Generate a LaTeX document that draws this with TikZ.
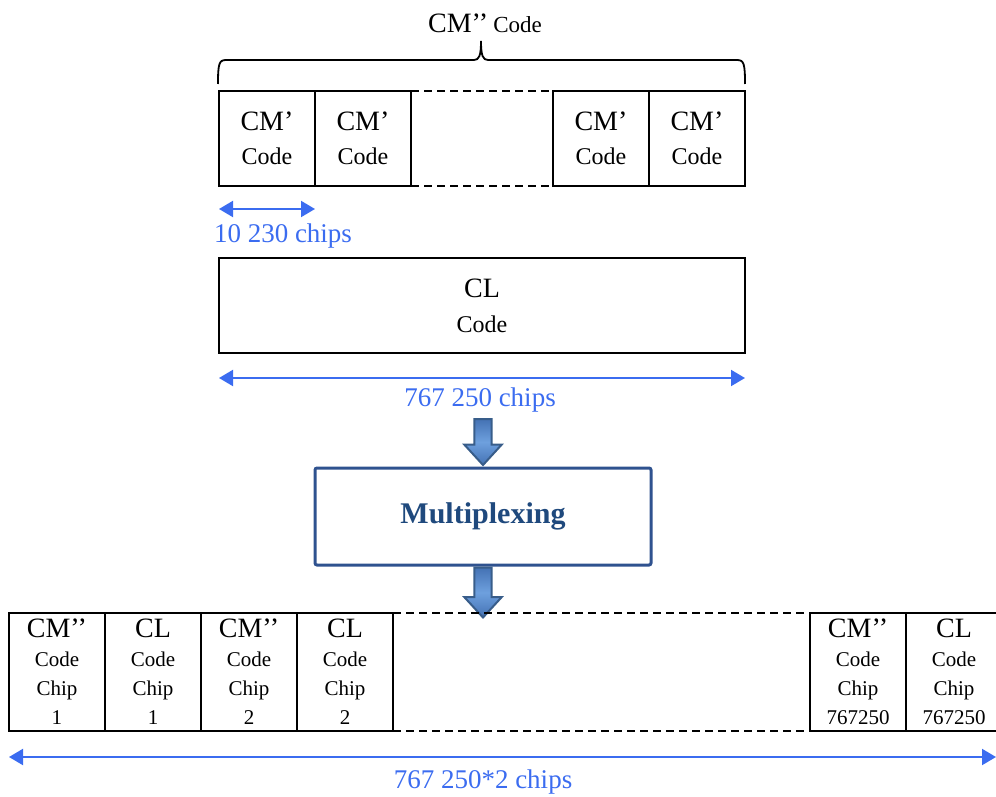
\documentclass[tikz,border=0pt]{standalone}
\usepackage{fontspec}
\setmainfont{Liberation Serif}
\usepackage{xcolor}
\usepackage{tikz}
\usetikzlibrary{arrows.meta,positioning,calc,shapes.arrows}

\definecolor{dimblue}{RGB}{59,108,240}
\definecolor{muxedge}{RGB}{47,82,143}
\definecolor{muxtext}{RGB}{31,73,125}
\definecolor{fatfill}{RGB}{68,114,180}
\definecolor{fatlight}{RGB}{110,160,222}
\definecolor{fatedge}{RGB}{56,93,138}

\tikzset{
  cell/.style={draw, line width=0.9pt, inner sep=0pt, outer sep=0pt,
    minimum width=48pt, minimum height=47.5pt, align=center,
    font=\fontsize{12}{17}\selectfont},
  chipcell/.style={cell, minimum height=59pt,
    font=\fontsize{10.5}{14.5}\selectfont},
  gapline/.style={line width=0.9pt, dash pattern=on 4pt off 2.5pt},
  dimarrow/.style={dimblue, line width=1pt,
    {Triangle[length=7pt,width=8pt]}-{Triangle[length=7pt,width=8pt]}},
  dimlabel/.style={text=dimblue, font=\fontsize{13.5}{13.5}\selectfont},
  fatarrow/.style={single arrow, draw=fatedge, line width=1pt,
    top color=fatfill, bottom color=fatfill, middle color=fatlight,
    rotate=-90, inner sep=3.8pt, single arrow head extend=5pt,
    single arrow tip angle=85},
  muxbox/.style={draw=muxedge, line width=1.5pt, rounded corners=1pt,
    minimum width=168pt, minimum height=48.5pt, text=muxtext,
    font=\fontsize{15}{15}\selectfont\bfseries}
}
\newcommand{\bigtxt}[1]{{\fontsize{14}{17}\selectfont #1}}

\begin{document}
\begin{tikzpicture}[x=0.5pt, y=-0.5pt]
  \clip (0,0) rectangle (996,797);

  % CM' code periods
  \node[cell] (c1) at (267,138.5) {\bigtxt{CM’}\\Code};
  \node[cell, right=0pt of c1] (c2) {\bigtxt{CM’}\\Code};
  \node[cell] (c3) at (601,138.5) {\bigtxt{CM’}\\Code};
  \node[cell, right=0pt of c3] (c4) {\bigtxt{CM’}\\Code};
  \draw[gapline] (c2.north east) -- (c3.north west);
  \draw[gapline] (c2.south east) -- (c3.south west);

  % brace over the whole CM'' code
  \draw[line width=0.9pt]
    (218,84) .. controls (218,64) and (219,60) .. (226,60) -- (474,60)
    .. controls (479,60) and (481,56) .. (481,41)
    .. controls (481,56) and (483,60) .. (488,60) -- (737,60)
    .. controls (744,60) and (745,64) .. (745,84);
  \node (cmlabel) at (485,23)
    {\bigtxt{CM’’} {\fontsize{11.5}{11.5}\selectfont Code}};

  % 10 230 chips
  \coordinate (w1) at ($(c1.south west)+(0,23)$);
  \coordinate (w2) at ($(c1.south east)+(0,23)$);
  \draw[dimarrow] (w1) -- (w2);
  \node[dimlabel] (wlabel) at (283,236) {10 230 chips};

  % CL code
  \node[cell, minimum width=263pt, font=\fontsize{12}{17.5}\selectfont]
    (cl) at (482,305.5) {\bigtxt{CL}\\Code};
  \coordinate (l1) at ($(cl.south west)+(0,25)$);
  \coordinate (l2) at ($(cl.south east)+(0,25)$);
  \draw[dimarrow] (l1) -- (l2);
  \node[dimlabel] (llabel) at (480,400) {767 250 chips};

  % Multiplexing
  \node[muxbox] (mux) at (483,516.5) {Multiplexing};
  \node[fatarrow, minimum height=23pt, anchor=tip] (fat1) at (mux.north) {};
  \node[fatarrow, minimum height=25pt, anchor=tail] (fat2) at (mux.south) {};

  % multiplexed chips
  \node[chipcell] (b1) at (57,672) {\bigtxt{CM’’}\\Code\\Chip\\1};
  \node[chipcell, right=0pt of b1] (b2) {\bigtxt{CL}\\Code\\Chip\\1};
  \node[chipcell, right=0pt of b2] (b3) {\bigtxt{CM’’}\\Code\\Chip\\2};
  \node[chipcell, right=0pt of b3] (b4) {\bigtxt{CL}\\Code\\Chip\\2};
  \node[chipcell] (b5) at (858,672) {\bigtxt{CM’’}\\Code\\Chip\\767250};
  \node[chipcell, right=0pt of b5] (b6) {\bigtxt{CL}\\Code\\Chip\\767250};
  \draw[gapline] (b4.north east) -- (b5.north west);
  \draw[gapline] (b4.south east) -- (b5.south west);

  \coordinate (m1) at ($(b1.south west)+(0,26)$);
  \coordinate (m2) at ($(b6.south east)+(-6,26)$);
  \draw[dimarrow] (m1) -- (m2);
  \node[dimlabel] (mlabel) at (483,782) {767 250*2 chips};
\end{tikzpicture}
\end{document}
